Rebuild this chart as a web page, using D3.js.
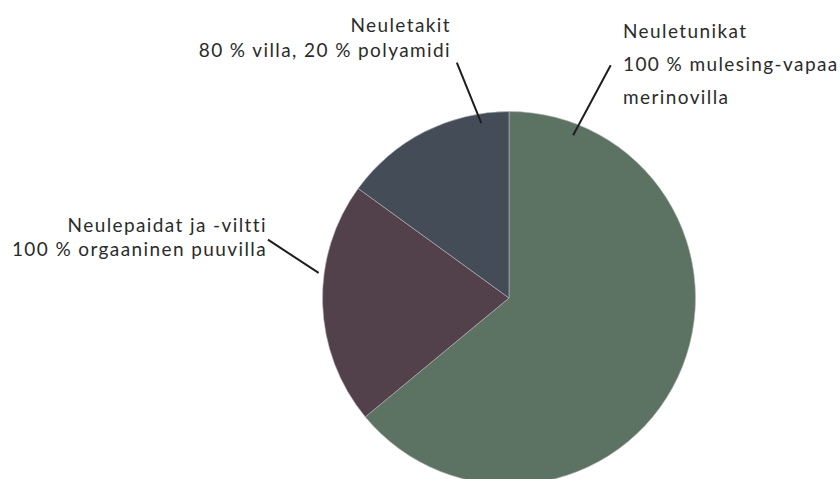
<!DOCTYPE html>
<html>
<head>
<meta charset="utf-8">
<script src="https://cdn.jsdelivr.net/npm/d3@7"></script>
<style>
  body { margin: 0; background: #fff; }
  text { font-family: Lato, "Noto Sans", sans-serif; fill: #2b2b2b; }
</style>
</head>
<body>
<div id="chart"></div>
<script>
const width = 840;
const height = 479;

// data
var categories = ["Neuletunikat", "Neulepaidat ja -viltti", "Neuletakit"];
var shares = [64, 21, 15];
var colors = ["#5c7262", "#52414a", "#444c58"];
var labelLines = [
    ["Neuletunikat", "100 % mulesing-vapaa", "merinovilla"],
    ["Neulepaidat ja -viltti", "100 % orgaaninen puuvilla"],
    ["Neuletakit", "80 % villa, 20 % polyamidi"]
];

var pieCenter = { x: 509, y: 298 };
var pieRadius = 186.5;

// leader line layout: angle in degrees (clockwise from top), inner and outer radius
var leaders = [
    { a1: 21.5, r1: 175, a2: 23.6, r2: 254 },
    { a1: -82.5, r1: 192, a2: -76.4, r2: 248 },
    { a1: -9, r1: 177, a2: -12.5, r2: 241 }
];
// label blocks
var labelPos = [
    { x: 623, y: 38, anchor: "start", lineGap: 33 },
    { x: 267, y: 232, anchor: "end", lineGap: 24 },
    { x: 451, y: 32, anchor: "end", lineGap: 25 }
];

var svg = d3.select("#chart").append("svg")
    .attr("width", width)
    .attr("height", height);

var pie = d3.pie().sort(null).value(d => d);
var arc = d3.arc().innerRadius(0).outerRadius(pieRadius);
var arcs = pie(shares);

var g = svg.append("g")
    .attr("transform", "translate(" + pieCenter.x + "," + pieCenter.y + ")");

g.selectAll("path")
    .data(arcs)
    .enter()
    .append("path")
    .attr("d", arc)
    .style("fill", (d, i) => colors[i])
    .style("stroke", "#b9b9b9")
    .style("stroke-width", 0.6);

function polar(aDeg, r) {
    var a = aDeg * Math.PI / 180;
    return [r * Math.sin(a), -r * Math.cos(a)];
}

g.selectAll("line.leader")
    .data(leaders)
    .enter()
    .append("line")
    .attr("class", "leader")
    .attr("x1", d => polar(d.a1, d.r1)[0])
    .attr("y1", d => polar(d.a1, d.r1)[1])
    .attr("x2", d => polar(d.a2, d.r2)[0])
    .attr("y2", d => polar(d.a2, d.r2)[1])
    .style("stroke", "#1e1e1e")
    .style("stroke-width", 2);

labelLines.forEach((lines, i) => {
    var p = labelPos[i];
    var t = svg.append("text")
        .attr("text-anchor", p.anchor)
        .style("font-size", "19px")
        .style("letter-spacing", "1.4px");
    lines.forEach((line, j) => {
        t.append("tspan")
            .attr("x", p.x)
            .attr("y", p.y + j * p.lineGap)
            .text(line);
    });
});
</script>
</body>
</html>
